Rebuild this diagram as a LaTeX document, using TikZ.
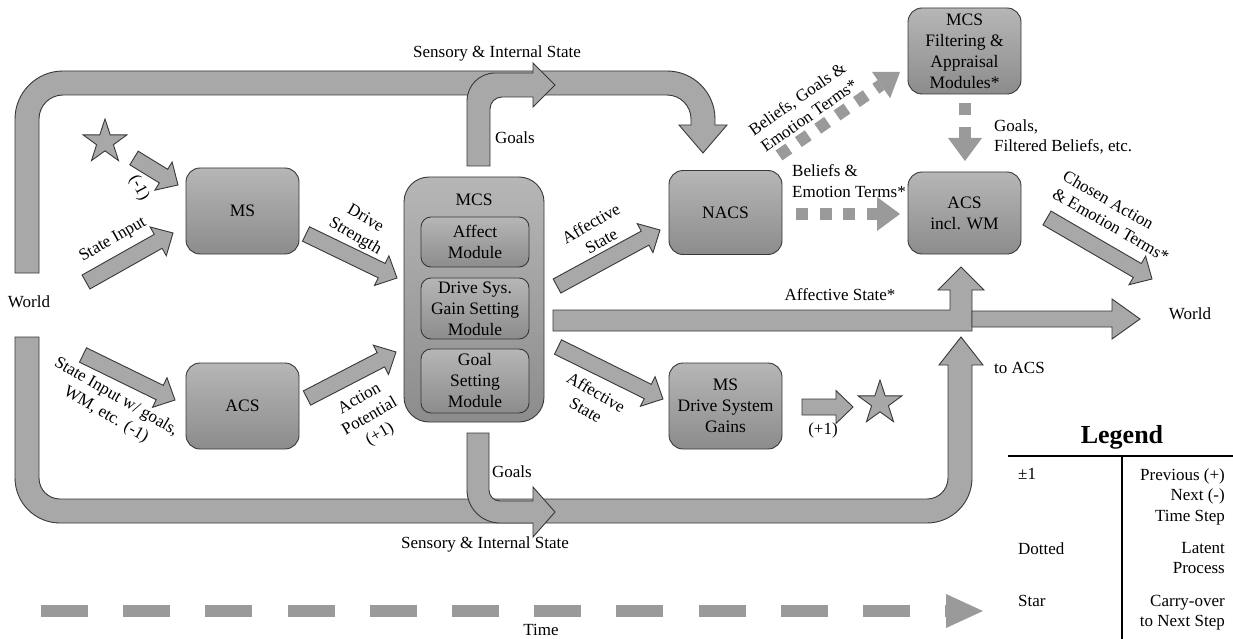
\documentclass[tikz,border=0pt]{standalone}
\usepackage{fontspec}
\setmainfont{Liberation Serif}
\usetikzlibrary{calc,shapes.geometric}
\definecolor{boxtop}{HTML}{B6B6B6}
\definecolor{boxbot}{HTML}{8C8C8C}
\definecolor{arrfill}{HTML}{A8A8A8}
\definecolor{edgecol}{HTML}{383838}
\definecolor{dotcol}{HTML}{9A9A9A}
\tikzset{
  lbl/.style={font=\fontsize{17pt}{20.5pt}\selectfont, inner sep=0pt, align=center},
  sbox/.style={draw=edgecol, line width=0.9pt, rounded corners=14pt, top color=boxtop, bottom color=boxbot,
    minimum width=113pt, minimum height=86pt, align=center, font=\fontsize{17.5pt}{21pt}\selectfont, inner sep=0pt},
  fatarr/.style={draw=edgecol, line width=0.9pt, fill=arrfill, line join=miter},
  starnode/.style={star, star points=5, star point ratio=2.6, draw=edgecol, line width=0.9pt, fill=arrfill,
    minimum size=46pt, inner sep=0pt},
  dotline/.style={draw=dotcol, line width=12pt, dash pattern=on 12pt off 11.5pt},
  dothead/.style={fill=dotcol},
  timeline/.style={draw=dotcol, line width=11.5pt, dash pattern=on 47pt off 35.2pt},
}
\newcommand\fatarrow[2]{%
  \coordinate (fah) at ($(#2)!17pt!(#1)$);
  \draw[fatarr] ($(#1)!8pt!90:(#2)$) -- ($(fah)!8pt!-90:(#1)$) -- ($(fah)!16.5pt!-90:(#1)$) -- (#2)
    -- ($(fah)!16.5pt!90:(#1)$) -- ($(fah)!8pt!90:(#1)$) -- ($(#1)!8pt!-90:(#2)$) -- cycle;}
\begin{document}
\begin{tikzpicture}[x=1pt,y=-1pt]
\fill[white] (0,0) rectangle (1233,639);
\useasboundingbox (0,0) rectangle (1233,639);

% ---- large bands ----
\draw[fatarr] (15,273) -- (15,119) arc[start angle=180,end angle=270,radius=48] -- (667,71)
  arc[start angle=270,end angle=360,radius=48] -- (715,125) -- (727,125) -- (703,153) -- (679,125) -- (691,125)
  -- (691,119) arc[start angle=0,end angle=-90,radius=24] -- (63,95)
  arc[start angle=270,end angle=180,radius=24] -- (39,273) -- cycle;
\draw[fatarr] (467,166) -- (467,101) arc[start angle=180,end angle=270,radius=28] -- (533,73) -- (533,63)
  -- (555,85) -- (533,107) -- (533,97) -- (502,97) arc[start angle=270,end angle=180,radius=12] -- (490,166) -- cycle;
\draw[fatarr] (15,337) -- (15,478) arc[start angle=180,end angle=90,radius=45] -- (927,523)
  arc[start angle=90,end angle=0,radius=45] -- (972,365) -- (983,365) -- (961,337) -- (939,365) -- (948,365)
  -- (948,478) arc[start angle=0,end angle=90,radius=21] -- (60,499)
  arc[start angle=90,end angle=180,radius=21] -- (39,337) -- cycle;
\draw[fatarr] (467,433) -- (467,490) arc[start angle=180,end angle=90,radius=33] -- (533,523) -- (533,537)
  -- (555,512) -- (533,487) -- (533,501) -- (500,501) arc[start angle=90,end angle=180,radius=11] -- (489,433) -- cycle;
\draw[fatarr] (553,310) -- (950,310) -- (950,290) -- (938,290) -- (961,267) -- (984,290) -- (972,290)
  -- (972,331) -- (553,331) -- cycle;
\draw[fatarr] (972,311) -- (1112,311) -- (1112,299) -- (1140,319) -- (1112,339) -- (1112,327) -- (972,327) -- cycle;

% ---- boxes ----
\node[sbox] (ms) at (242.5,211) {MS};
\node[sbox] (acsl) at (242.5,406) {ACS};
\node[sbox, minimum height=84pt] (nacs) at (725.5,212.5) {NACS};
\node[sbox, minimum height=82pt] (acswm) at (964.5,213) {ACS\\incl. WM};
\node[sbox] (filt) at (964.5,51) {MCS\\Filtering \&\\Appraisal\\Modules*};
\node[sbox] (msdsg) at (725.5,406) {MS\\Drive System\\Gains};
\node[sbox, rounded corners=25pt, minimum width=140pt, minimum height=245pt] (mcs) at (474,299.5) {};
\node[lbl, font=\fontsize{17.5pt}{21pt}\selectfont] (mcstitle) at (474,200) {MCS};
\node[sbox, rounded corners=10pt, minimum width=108pt, minimum height=50pt] (affect) at (475,242) {Affect\\Module};
\node[sbox, rounded corners=10pt, minimum width=108pt, minimum height=61pt] (drivegain) at (475,308.5) {Drive Sys.\\Gain Setting\\Module};
\node[sbox, rounded corners=10pt, minimum width=108pt, minimum height=64pt] (goalset) at (475,381) {Goal\\Setting\\Module};

% ---- stars ----
\node[starnode] (star1) at (105,142) {};
\node[starnode] (star2) at (880,403) {};

% ---- straight block arrows ----
\coordinate (a1s) at (134,158);  \coordinate (a1e) at (178,185);
\coordinate (a2s) at (86,282);   \coordinate (a2e) at (173,233);
\coordinate (a3s) at (306,234);  \coordinate (a3e) at (397,278);
\coordinate (a4s) at (83,355);   \coordinate (a4e) at (175,400);
\coordinate (a5s) at (307,398);  \coordinate (a5e) at (396,352);
\coordinate (a6s) at (557,286);  \coordinate (a6e) at (660,230);
\coordinate (a7s) at (558,347);  \coordinate (a7e) at (663,399);
\coordinate (a8s) at (802,407);  \coordinate (a8e) at (853,407);
\coordinate (a9s) at (1047,218); \coordinate (a9e) at (1152,279);
\fatarrow{a1s}{a1e}
\fatarrow{a2s}{a2e}
\fatarrow{a3s}{a3e}
\fatarrow{a4s}{a4e}
\fatarrow{a5s}{a5e}
\fatarrow{a6s}{a6e}
\fatarrow{a7s}{a7e}
\fatarrow{a8s}{a8e}
\fatarrow{a9s}{a9e}

% ---- dotted (latent) arrows ----
\coordinate (h1s) at (796,214); \coordinate (h1b) at (877,214); \coordinate (h1t) at (900,214);
\draw[dotline] (h1s) -- (h1b);
\fill[dothead] ($(h1b)!17pt!90:(h1t)$) -- (h1t) -- ($(h1b)!17pt!-90:(h1t)$) -- cycle;
\coordinate (v1s) at (965,103); \coordinate (v1b) at (965,138); \coordinate (v1t) at (965,161);
\draw[dotline, dash pattern=on 12pt off 12pt] (v1s) -- ($(v1b)+(0,1)$);
\fill[dothead] ($(v1b)!17pt!90:(v1t)$) -- (v1t) -- ($(v1b)!17pt!-90:(v1t)$) -- cycle;
\coordinate (d1s) at (779,155.4); \coordinate (d1t) at (900,72);
\coordinate (d1b) at ($(d1t)!23pt!(d1s)$);
\draw[dotline] (d1s) -- (d1b);
\fill[dothead] ($(d1b)!16pt!90:(d1t)$) -- (d1t) -- ($(d1b)!16pt!-90:(d1t)$) -- cycle;

% ---- time arrow ----
\coordinate (ts) at (41,611); \coordinate (tb) at (946,611); \coordinate (tt) at (983,611);
\draw[timeline] (ts) -- ($(tb)+(4,0)$);
\fill[dotcol] ($(tb)!17pt!90:(tt)$) -- (tt) -- ($(tb)!17pt!-90:(tt)$) -- cycle;
\node[lbl] (time) at (541,630) {Time};

% ---- labels ----
\node[lbl] (sisTop) at (497,53) {Sensory \& Internal State};
\node[lbl] (sisBot) at (485,544) {Sensory \& Internal State};
\node[lbl] (goalsUp) at (515,138) {Goals};
\node[lbl] (goalsDn) at (512,472) {Goals};
\node[lbl] (worldL) at (29,302) {World};
\node[lbl] (worldR) at (1190,314) {World};
\node[lbl, rotate=30] (lStateIn) at (113,240) {State Input};
\node[lbl, rotate=-62] (lm1) at (139,188) {(-1)};
\node[lbl, rotate=-30] (lDrive) at (360,228) {Drive\\Strength};
\node[lbl, rotate=-30] (lStateGoals) at (111,406) {State Input w/ goals,\\WM, etc. (-1)};
\node[lbl, rotate=30] (lAction) at (370,417) {Action\\Potential\\(+1)};
\node[lbl, rotate=30] (lAffUp) at (596,232) {Affective\\State};
\node[lbl, rotate=-30] (lAffDn) at (591,401) {Affective\\State};
\node[lbl] (lAffStar) at (840,295) {Affective State*};
\node[lbl, align=left, anchor=north west] (lBel) at (792,164.5) {Beliefs \&\\Emotion Terms*};
\node[lbl, rotate=35] (lBelGoals) at (803,107) {Beliefs, Goals \&\\Emotion Terms*};
\node[lbl, align=left, anchor=north west] (lGoalsF) at (994,119.5) {Goals,\\Filtered Beliefs, etc.};
\node[lbl, rotate=-30, align=left] (lChosen) at (1116,216) {Chosen Action\\\& Emotion Terms*};
\node[lbl, anchor=west] (lToAcs) at (994,368) {to ACS};
\node[lbl] (lp1) at (823,430) {(+1)};

% ---- legend ----
\node[inner sep=0pt, font=\fontsize{26pt}{30pt}\selectfont\bfseries] (legend) at (1122,437) {Legend};
\coordinate (lgL) at (1008,456); \coordinate (lgR) at (1233,456);
\coordinate (lgT) at (1122,456); \coordinate (lgB) at (1122,639);
\draw[line width=1.3pt] (lgL) -- (lgR);
\draw[line width=1.3pt] (lgT) -- (lgB);
\node[lbl, anchor=north west] (lg1a) at (1018,468) {±1};
\node[lbl, anchor=north east, align=right] (lg1b) at (1225,468) {Previous (+)\\Next (-)\\Time Step};
\node[lbl, anchor=north west] (lg2a) at (1018,542) {Dotted};
\node[lbl, anchor=north east, align=right] (lg2b) at (1225,542) {Latent\\Process};
\node[lbl, anchor=north west] (lg3a) at (1018,595) {Star};
\node[lbl, anchor=north east, align=right] (lg3b) at (1225,595) {Carry-over\\to Next Step};
\end{tikzpicture}
\end{document}
